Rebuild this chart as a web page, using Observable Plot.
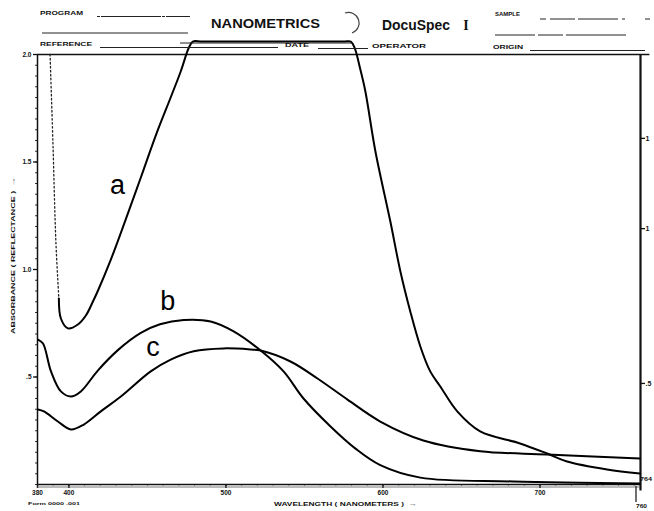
<!DOCTYPE html>
<html><head><meta charset="utf-8">
<script src="https://cdn.jsdelivr.net/npm/d3@7"></script>
<script src="https://cdn.jsdelivr.net/npm/@observablehq/plot@0.6"></script>
<style>body{margin:0;background:#fff}</style>
</head><body><div id="chart"></div>
<script>
// ---- data ----
const aDottedNm  = [388, 389.8, 391.7, 393.6];
const aDottedAbs = [2.0, 1.595, 1.13, 0.865];
const aNm  = [393.6, 394.9, 399.4, 405.7, 410.8, 415.3, 418.4, 426.7, 436.2, 445.8, 455.3, 464.8, 471.2, 476.3, 478.9, 485, 530, 575, 579.5, 582, 585.6, 588.8, 595.2, 604.7, 611.1, 617.4, 623.8, 630.1, 636.5, 647.3, 661.9, 687.3, 704.5, 717.2, 742.7, 763.6];
const aAbs = [0.865, 0.772, 0.726, 0.744, 0.786, 0.851, 0.900, 1.046, 1.233, 1.428, 1.623, 1.800, 1.921, 2.03, 2.06, 2.06, 2.06, 2.06, 2.06, 2.03, 1.930, 1.828, 1.549, 1.223, 0.991, 0.805, 0.642, 0.526, 0.456, 0.340, 0.247, 0.191, 0.144, 0.107, 0.070, 0.051];
const bNm  = [380.3, 383.5, 388.6, 394.9, 401.3, 407.6, 418.4, 431.2, 445.8, 458, 473.1, 490.3, 504.9, 522.1, 536.7, 549.4, 566.6, 582.5, 598.3, 623.8, 682.9, 763.6];
const bAbs = [0.674, 0.656, 0.526, 0.433, 0.409, 0.433, 0.530, 0.625, 0.705, 0.745, 0.765, 0.758, 0.712, 0.623, 0.526, 0.400, 0.270, 0.167, 0.090, 0.032, 0.014, 0.005];
const cNm  = [380.3, 384.1, 393.0, 401.3, 409.5, 420.3, 433.1, 452.1, 464.8, 479.5, 498.5, 515.7, 522.1, 541.1, 558.3, 577.4, 598.3, 625.7, 661.9, 704.5, 763.6];
const cAbs = [0.349, 0.340, 0.293, 0.256, 0.279, 0.340, 0.409, 0.526, 0.581, 0.620, 0.633, 0.628, 0.623, 0.572, 0.493, 0.395, 0.293, 0.205, 0.155, 0.140, 0.121];

const seriesNames = ["a", "b", "c"];
const labelNm  = [431, 463, 453.5];
const labelAbs = [1.39, 0.85, 0.64];

const xTicks = [380, 400, 500, 600, 700];
const xTickLabels = ["380", "400", "500", "600", "700"];
const yTicks = [0.5, 1.0, 1.5, 2.0];
const yTickLabels = [".5", "1.0", "1.5", "2.0"];
const rightTicks = [1.61, 1.19, 0.47];
const rightTickLabels = ["1", "1", ".5"];

const xTitle = "WAVELENGTH ( NANOMETERS )  \u2192";
const yTitle = "ABSORBANCE ( REFLECTANCE )  \u2192";

// ---- build tables ----
const zip = (xs, ys, s) => xs.map((x, i) => ({nm: x, abs: ys[i], s}));
const curves = [...zip(aNm, aAbs, "a"), ...zip(bNm, bAbs, "b"), ...zip(cNm, cAbs, "c")];
const dotted = zip(aDottedNm, aDottedAbs, "a");
const labels = seriesNames.map((s, i) => ({s, nm: labelNm[i], abs: labelAbs[i]}));

const FONT = "Liberation Sans, Arial, sans-serif";
const chart = Plot.plot({
  width: 654, height: 511,
  marginLeft: 37, marginRight: 14, marginTop: 54, marginBottom: 27,
  x: {domain: [380, 764]},
  y: {domain: [0, 2]},
  style: {fontFamily: FONT, fontSize: "6.5px", fontWeight: "bold", background: "#fff", color: "#111"},
  marks: [
    Plot.axisY({ticks: 40, tickSize: 2, tickFormat: () => "", label: null, stroke: "#333"}),
    Plot.axisX({ticks: 40, tickSize: 1.5, tickFormat: () => "", label: null, stroke: "#333"}),
    Plot.axisY({ticks: yTicks, tickSize: 4, tickPadding: 2, tickFormat: d => yTickLabels[yTicks.indexOf(d)], label: null, strokeWidth: 1.3}),
    Plot.axisX({ticks: xTicks, tickSize: 4, tickPadding: 2, tickFormat: d => xTickLabels[xTicks.indexOf(d)], label: null, strokeWidth: 1.5}),
    Plot.axisY({anchor: "right", ticks: rightTicks, tickSize: 4, tickPadding: 1, tickFormat: d => rightTickLabels[rightTicks.indexOf(d)], label: null, strokeWidth: 1.3, fontSize: 7}),
    Plot.ruleX([380], {stroke: "#111", strokeWidth: 1.5}),
    Plot.ruleX([764], {y1: -0.03, y2: 2.0, stroke: "#111", strokeWidth: 2.2}),
    Plot.ruleY([0], {x1: 380, x2: 764, stroke: "#111", strokeWidth: 1.6}),
    Plot.ruleY([0], {x1: 380, x2: 764, stroke: "#555", strokeWidth: 0.8, dy: 2.5}),
    Plot.ruleY([2], {x1: 380, x2: 770, stroke: "#111", strokeWidth: 1.6}),
    Plot.line(dotted, {x: "nm", y: "abs", stroke: "#222", strokeWidth: 1.3, strokeDasharray: "1.5,2.5", curve: "catmull-rom"}),
    Plot.line(curves, {x: "nm", y: "abs", z: "s", stroke: "#000", strokeWidth: 2, curve: "catmull-rom"}),
    Plot.text(labels, {x: "nm", y: "abs", text: "s", fontSize: 27, fontWeight: "normal", fill: "#000"})
  ]
});
document.getElementById("chart").appendChild(chart);

// ---- form furniture (header & titles) ----
const svg = d3.select(chart);
const g = svg.append("g").attr("fill", "#111").attr("font-family", FONT).attr("font-weight", "bold");
function txt(x, y, s, size, len, anchor = "start", rot = 0) {
  const t = g.append("text").attr("x", x).attr("y", y).attr("font-size", size).attr("text-anchor", anchor).text(s);
  if (len) t.attr("textLength", len).attr("lengthAdjust", "spacingAndGlyphs");
  if (rot) t.attr("transform", `rotate(${rot},${x},${y})`);
  return t;
}
function ln(x1, y1, x2, y2, w = 1, dash = null) {
  const l = g.append("line").attr("x1", x1).attr("y1", y1).attr("x2", x2).attr("y2", y2).attr("stroke", "#222").attr("stroke-width", w);
  if (dash) l.attr("stroke-dasharray", dash);
}
txt(40, 15, "PROGRAM", 5.5, 43);
ln(97, 16.5, 190, 16.5, 1, "3,1,60,1");
ln(42, 33, 188, 33, 1);
txt(211, 28, "NANOMETRICS", 13.5, 109);
g.append("path").attr("d", "M345,13 A10,10 0 0 1 352,33").attr("fill", "none").attr("stroke", "#444").attr("stroke-width", 1.2);
txt(382, 30, "DocuSpec", 14, 68);
g.append("text").attr("x", 466).attr("y", 30).attr("font-size", 14).attr("font-family", "Liberation Serif, serif").attr("font-weight", "bold").text("I");
txt(495, 16, "SAMPLE", 5, 25);
ln(540, 19, 650, 19, 1, "6,4,25,3,40,4,3,20");
ln(495, 35, 645, 35, 1, "40,3,25,3,60");
txt(40, 46, "REFERENCE", 5.5, 52);
ln(100, 47.5, 278, 47.5, 1);
ln(180, 43, 352, 43, 1);
txt(285, 47, "DATE", 5.5, 24);
ln(318, 48.5, 368, 48.5, 1);
txt(372, 48, "OPERATOR", 5, 54);
txt(493, 49, "ORIGIN", 5, 30);
ln(530, 50.5, 645, 50.5, 1);
// axis titles
txt(274, 506, xTitle, 6, 143);
txt(15, 334, yTitle, 6, 157, "start", -90);
txt(28, 505, "Form 0000 .001", 3.8, 52);
// right-bottom edge marks
ln(636, 486, 636, 502, 1.3);
txt(640, 481, "764", 5, 12);
txt(636, 508, "760", 5, 11);
</script></body></html>
